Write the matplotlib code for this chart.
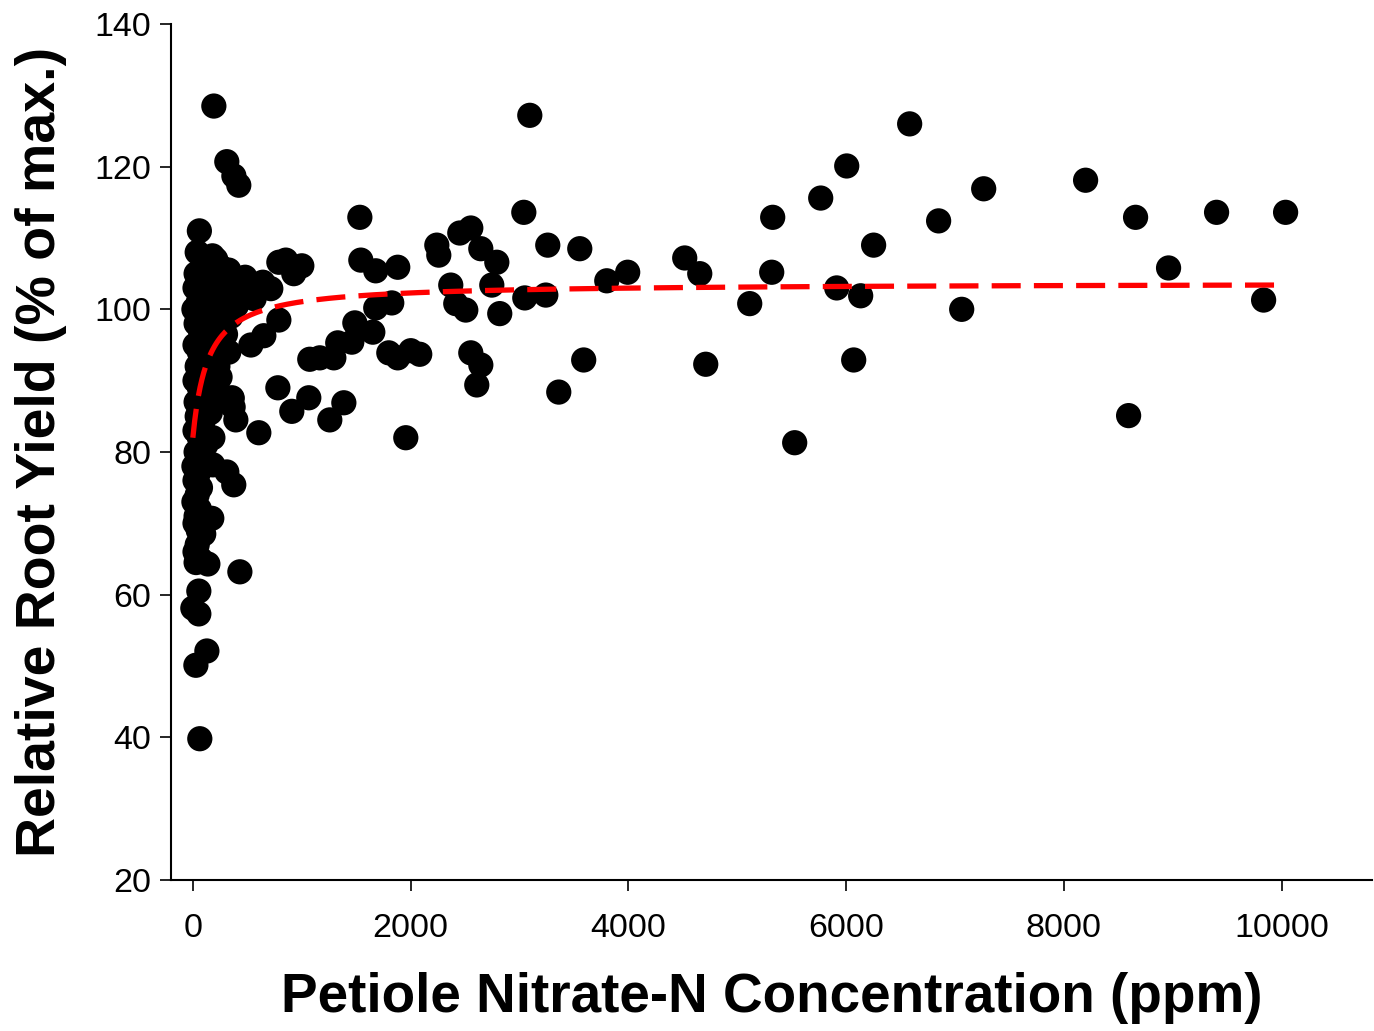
import numpy as np
import matplotlib.pyplot as plt

plt.rcParams['font.family'] = ['Liberation Sans', 'DejaVu Sans']

# petiole nitrate-N (ppm) and relative root yield (% of max)
nitrate = [
    # sparse points, right part
    10037, 9835, 9403, 8962, 8659, 8595, 8200, 7264, 7062, 6850,
    6584, 6253, 6134, 6070, 6006, 5914, 5767, 5528, 5326, 5317,
    5115, 4711, 4656, 4518, 3994, 3802, 3590, 3554, 3361, 3260,
    3242, 3095, 3049, 3040, 2819, 2792, 2746, 2645, 2645, 2608,
    2553, 2553, 2507, 2452, 2415, 2369, 2259, 2241, 2084, 2002,
    1956, 1882, 1882, 1827, 1800, 1680, 1680, 1653, 1543, 1534,
    1488, 1460, 1387, 1331, 1295, 1258, 1166, 1074, 1065, 909,
    1001, 927, 854, 790, 790, 781, 716, 652, 606, 533,
    643, 563, 480,
    # low-concentration cluster
    432, 422, 377, 312, 193, 376, 395, 370, 360, 312,
    184, 184, 174, 138, 129, 55, 55, 28, 64, 0,
    60, 40, 90, 30, 120, 60, 20, 100, 150, 50,
    10, 80, 130, 30, 70, 110, 20, 60, 100, 40,
    80, 20, 60, 100, 30, 70, 40, 90, 20, 60,
    30, 80, 10, 50, 20, 70, 40, 10, 60, 30,
    90, 20, 50, 100, 40, 20, 70, 30,
    180, 250, 230, 290, 330, 380, 420, 460, 200, 270,
    320, 350, 400, 200, 260, 300, 330, 360, 150, 230,
    240, 300, 170, 210, 280, 140, 190, 250, 160, 120,
]
root_yield = [
    113.6, 101.3, 113.6, 105.8, 112.9, 85.1, 118.1, 116.9, 100.0, 112.4,
    126.0, 109.0, 101.9, 92.9, 120.1, 103.0, 115.6, 81.3, 112.9, 105.2,
    100.8, 92.3, 105.0, 107.2, 105.2, 104.0, 92.9, 108.5, 88.4, 109.0,
    102.0, 127.2, 101.6, 113.6, 99.4, 106.6, 103.4, 108.5, 92.2, 89.4,
    111.4, 93.9, 99.9, 110.7, 100.8, 103.4, 107.6, 109.0, 93.7, 94.2,
    82.0, 93.2, 105.9, 100.9, 93.9, 100.2, 105.4, 96.8, 106.9, 112.9,
    98.1, 95.4, 86.9, 95.3, 93.2, 84.5, 93.2, 93.0, 87.6, 85.7,
    106.1, 105.0, 106.9, 106.6, 98.5, 89.0, 102.9, 96.3, 82.7, 95.0,
    103.8, 101.5, 104.5,
    63.2, 117.4, 118.7, 120.7, 128.5, 75.4, 84.5, 86.3, 87.6, 77.2,
    78.2, 82.0, 70.7, 64.3, 52.1, 57.3, 60.5, 50.1, 39.8, 58.1,
    111.0, 108.0, 107.0, 105.0, 106.0, 104.0, 103.0, 102.0, 103.0, 101.0,
    100.0, 100.0, 99.0, 98.0, 97.0, 96.0, 95.0, 94.0, 93.0, 92.0,
    91.0, 90.0, 89.0, 88.0, 87.0, 86.0, 85.0, 84.0, 83.0, 82.0,
    80.0, 79.0, 78.0, 77.0, 76.0, 75.0, 74.0, 73.0, 72.0, 71.0,
    70.5, 70.0, 69.0, 68.5, 67.0, 66.0, 65.0, 64.5,
    107.5, 106.0, 104.0, 103.0, 105.5, 104.0, 103.0, 102.5, 101.0, 100.5,
    102.0, 99.0, 100.5, 89.5, 88.0, 87.5, 94.0, 87.5, 95.0, 92.0,
    98.0, 96.5, 104.5, 107.0, 101.5, 99.5, 97.5, 90.5, 85.5, 81.0,
]

# fitted response curve: y = y0 + a*x/(b + x)
fit_y0 = 82.0
fit_a = 21.7
fit_b = 138.0
fit_x = np.linspace(0, 10000, 600)
fit_y = fit_y0 + fit_a * fit_x / (fit_b + fit_x)

fig = plt.figure(figsize=(13.74, 10.31), dpi=100)
ax = fig.add_axes([0.1245, 0.1465, 0.874, 0.8302])

ax.scatter(nitrate, root_yield, s=330, color='black', edgecolors='none', zorder=2)
ax.plot(fit_x, fit_y, color='red', linewidth=3.8, dashes=(5.5, 2.5), zorder=3)

ax.set_xlim(-200, 10830)
ax.set_ylim(20, 140)
ax.set_xticks(np.arange(0, 10001, 2000))
ax.set_yticks(np.arange(20, 141, 20))

for side in ['top', 'right']:
    ax.spines[side].set_visible(False)
for side in ['left', 'bottom']:
    ax.spines[side].set_linewidth(1.5)

ax.tick_params(axis='both', direction='out', length=8, width=1.2, labelsize=24.5, pad=16)
ax.tick_params(axis='y', pad=6)

ax.set_xlabel('Petiole Nitrate-N Concentration (ppm)', fontsize=39.5, fontweight='bold', labelpad=20)
ax.set_ylabel('Relative Root Yield (% of max.)', fontsize=40, fontweight='bold', labelpad=20)

fig.savefig('out.png', dpi=100)
